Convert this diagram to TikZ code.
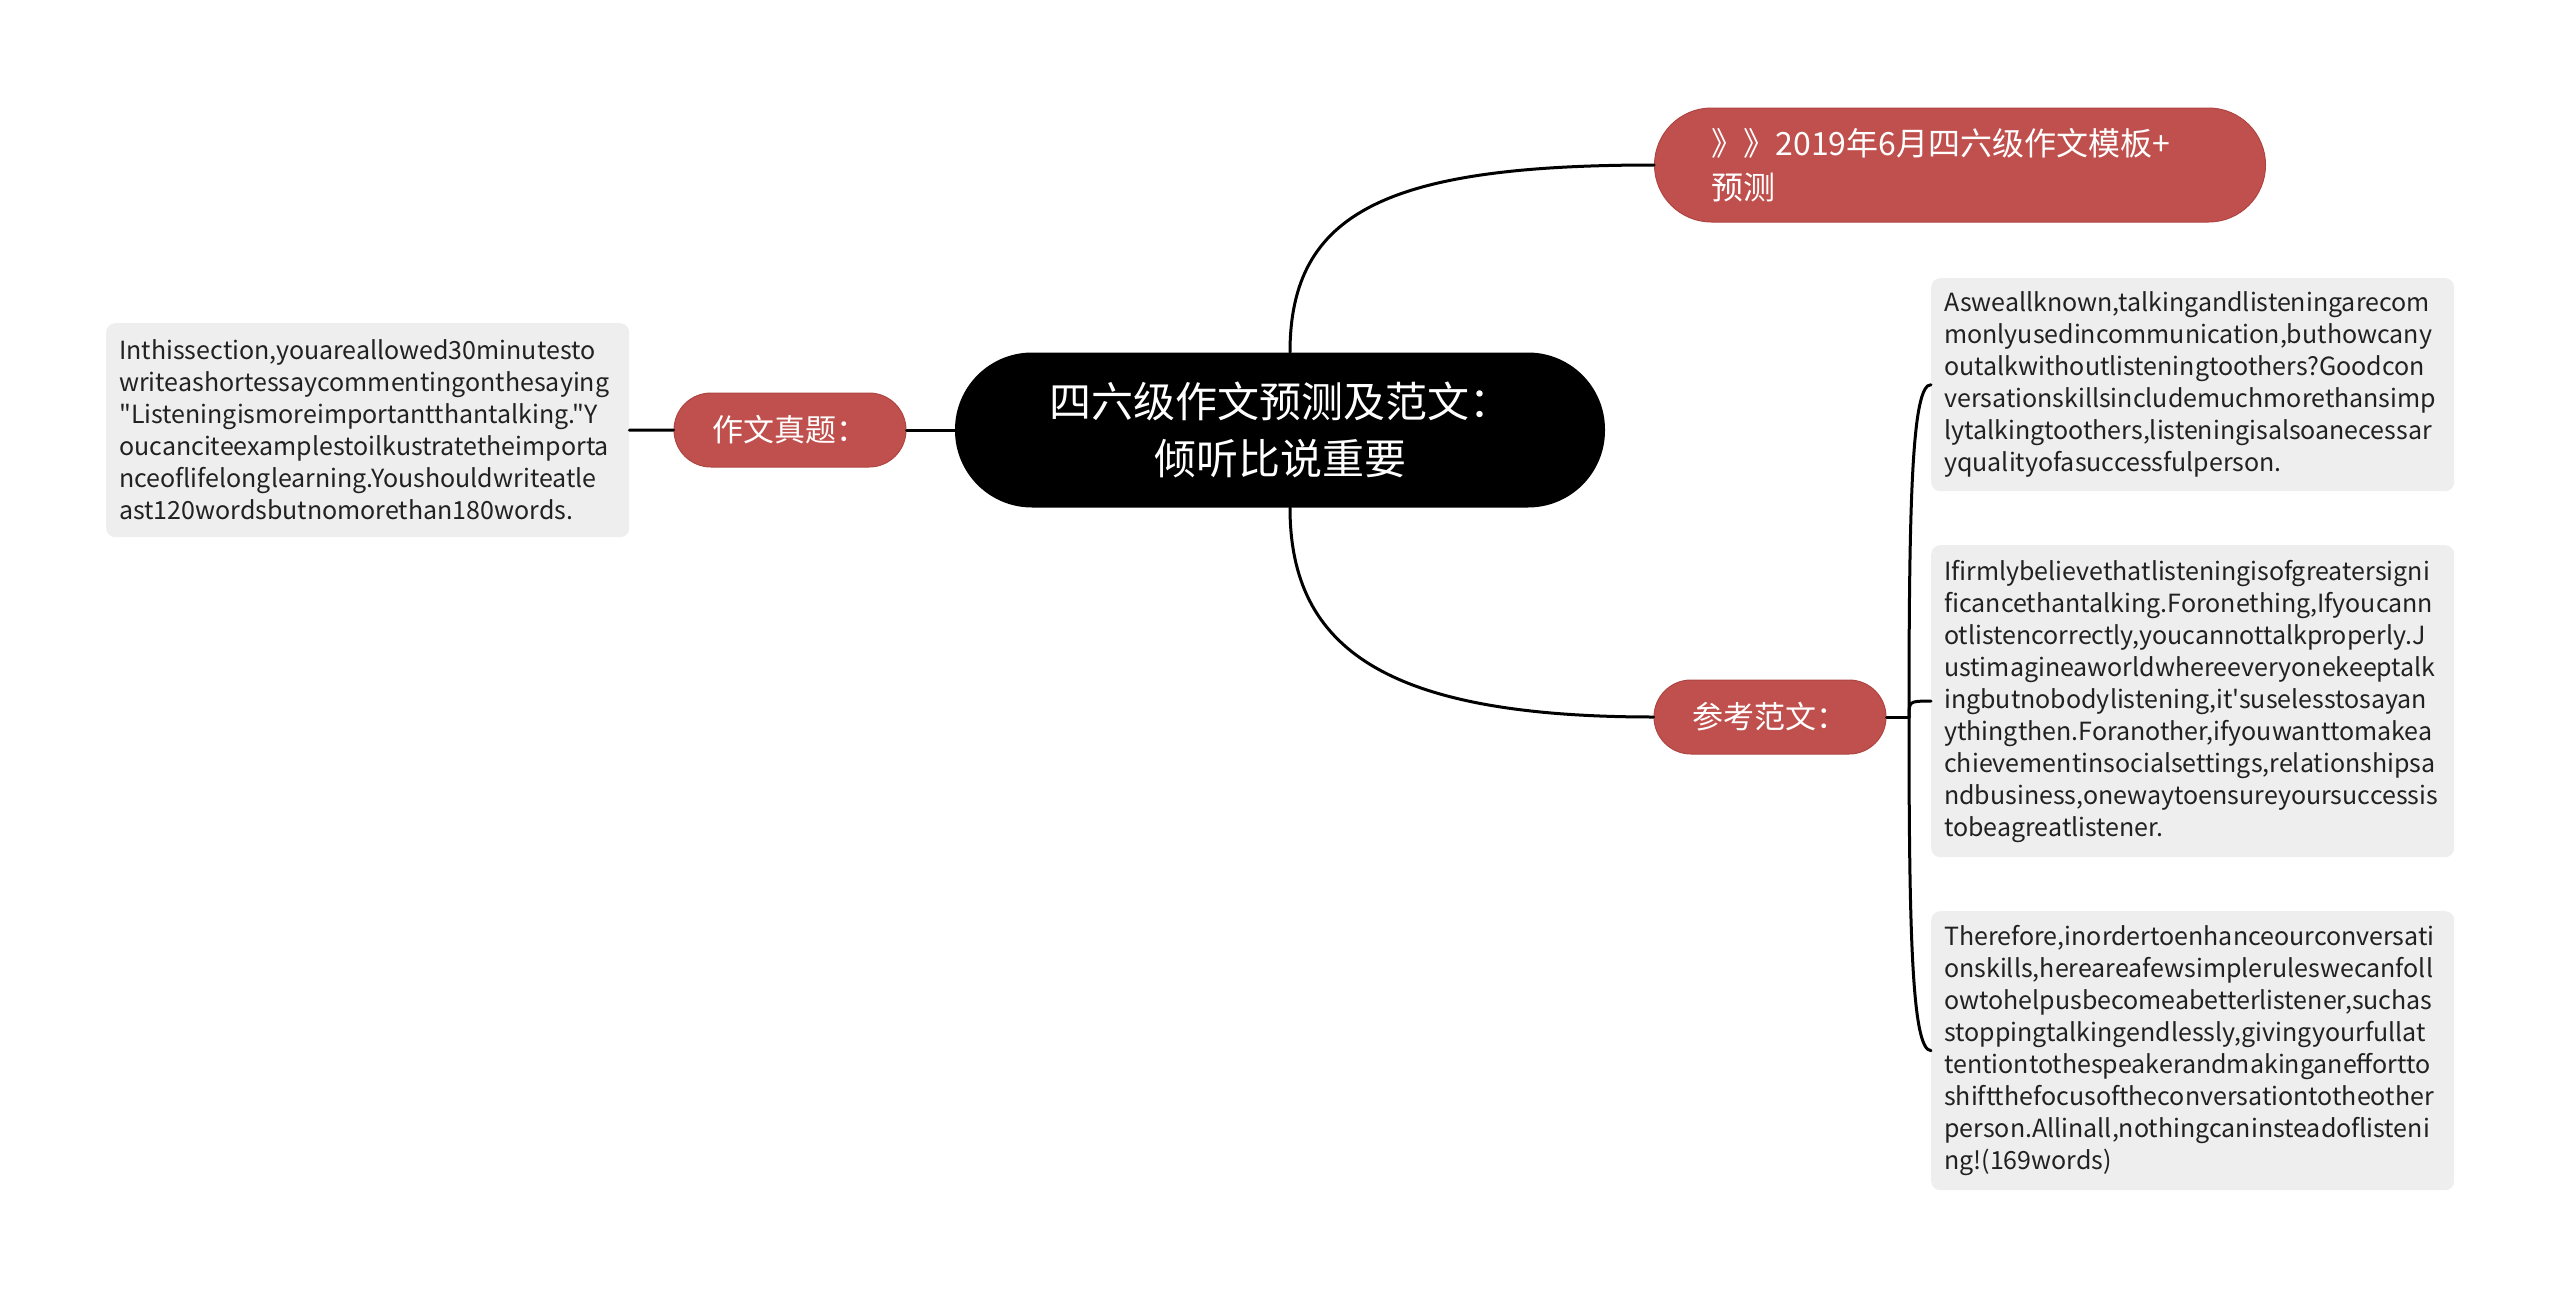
\documentclass[tikz,border=0pt]{standalone}
\usepackage{fontspec}
\setmainfont{Noto Sans CJK SC}[Ligatures=TeXOff]
\usetikzlibrary{positioning, calc}

\definecolor{topicred}{HTML}{C0504D}
\definecolor{edgered}{HTML}{AE4542}
\definecolor{boxgray}{HTML}{EEEEEE}

\begin{document}
\begin{tikzpicture}[x=1pt, y=-1pt,
    topic/.style={fill=topicred, draw=edgered, line width=1pt, text=white, rounded corners=37pt,
        minimum width=232pt, minimum height=74pt, inner sep=0pt, font=\fontsize{31}{38}\selectfont},
    para/.style={fill=boxgray, rounded corners=9pt, text=black!87, align=left, text width=497pt,
        inner xsep=13pt, inner ysep=0pt, anchor=north west, font=\fontsize{25}{32}\selectfont},
    link/.style={line width=3pt, line cap=round}]
    \useasboundingbox (0,0) rectangle (2560,1298);

    % Root
    \node[fill=black, text=white, rounded corners=77pt, minimum width=650pt, minimum height=155pt,
        align=center, font=\fontsize{42}{57}\selectfont] (root) at (1280,430)
        {四六级作文预测及范文：\\倾听比说重要};

    % Topics
    \node[topic, minimum width=611pt, minimum height=114pt, rounded corners=57pt, align=left,
        text width=497pt, inner xsep=57pt, font=\fontsize{32}{44}\selectfont] (mould) at (1960,165)
        {》》2019年6月四六级作文模板+\\预测};
    \node[topic] (task) at (790,430) {作文真题：};
    \node[topic] (sample) at (1770,717) {参考范文：};

    % Paragraphs
    \node[para, minimum height=214pt] (essay) at (106,323)
        {Inthissection,youareallowed30minutesto\\
         writeashortessaycommentingonthesaying\\
         "Listeningismoreimportantthantalking."Y\\
         oucanciteexamplestoilkustratetheimporta\\
         nceoflifelonglearning.Youshouldwriteatle\\
         ast120wordsbutnomorethan180words.};
    \node[para, minimum height=213pt] (para1) at (1931,278)
        {Asweallknown,talkingandlisteningarecom\\
         monlyusedincommunication,buthowcany\\
         outalkwithoutlisteningtoothers?Goodcon\\
         versationskillsincludemuchmorethansimp\\
         lytalkingtoothers,listeningisalsoanecessar\\
         yqualityofasuccessfulperson.};
    \node[para, minimum height=312pt] (para2) at (1931,545)
        {Ifirmlybelievethatlisteningisofgreatersigni\\
         ficancethantalking.Foronething,Ifyoucann\\
         otlistencorrectly,youcannottalkproperly.J\\
         ustimagineaworldwhereeveryonekeeptalk\\
         ingbutnobodylistening,it'suselesstosayan\\
         ythingthen.Foranother,ifyouwanttomakea\\
         chievementinsocialsettings,relationshipsa\\
         ndbusiness,onewaytoensureyoursuccessis\\
         tobeagreatlistener.};
    \node[para, minimum height=279pt] (para3) at (1931,911)
        {Therefore,inordertoenhanceourconversati\\
         onskills,hereareafewsimpleruleswecanfoll\\
         owtohelpusbecomeabetterlistener,suchas\\
         stoppingtalkingendlessly,givingyourfullat\\
         tentiontothespeakerandmakinganeffortto\\
         shiftthefocusoftheconversationtotheother\\
         person.Allinall,nothingcaninsteadoflisteni\\
         ng!(169words)};

    % Links
    \draw[link] ([xshift=10pt]root.north) .. controls +(0,-141) and +(-266,0) .. (mould.west);
    \draw[link] ([xshift=10pt]root.south) .. controls +(0,142) and +(-266,0) .. (sample.west);
    \draw[link] (root.west) -- (task.east);
    \draw[link] (task.west) -- (essay.east);

    \coordinate (fork) at (1909,717);
    \draw[link] (sample.east) -- (fork);
    \draw[link] (fork) .. controls (1909,500) and (1912,384) .. (para1.west);
    \draw[link] (fork) .. controls (1909,701) .. (para2.west);
    \draw[link] (fork) .. controls (1909,934) and (1912,1050) .. (para3.west);
\end{tikzpicture}
\end{document}
